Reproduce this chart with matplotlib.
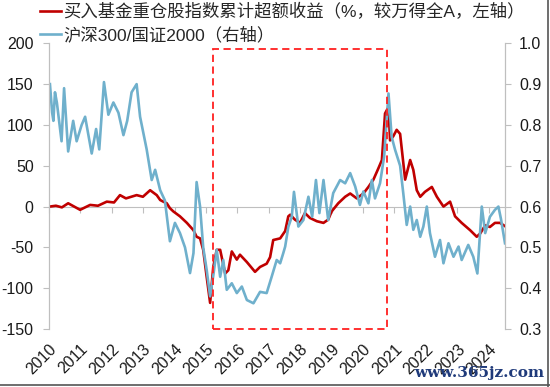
import matplotlib
matplotlib.use('Agg')
import matplotlib.pyplot as plt
from matplotlib.patches import Rectangle
from matplotlib.lines import Line2D

plt.rcParams['font.family'] = ['Liberation Sans', 'Noto Sans CJK SC']
plt.rcParams['font.size'] = 11.5

# 买入基金重仓股指数累计超额收益 (left axis, %)
red_t = [2010.03, 2010.22, 2010.41, 2010.61, 2010.80, 2010.99, 2011.31, 2011.56, 2011.84, 2012.07,
         2012.26, 2012.45, 2012.79, 2012.99, 2013.22, 2013.43, 2013.54, 2013.64, 2013.75, 2013.85,
         2013.96, 2014.17, 2014.39, 2014.60, 2014.70, 2014.81, 2014.91, 2015.02, 2015.13, 2015.23,
         2015.34, 2015.45, 2015.61, 2015.71, 2015.82, 2015.98, 2016.08, 2016.30, 2016.56, 2016.72,
         2016.93, 2017.04, 2017.14, 2017.36, 2017.52, 2017.62, 2017.68, 2017.83, 2017.99, 2018.15,
         2018.31, 2018.53, 2018.74, 2018.89, 2019.00, 2019.21, 2019.43, 2019.59, 2019.80, 2020.01,
         2020.17, 2020.33, 2020.49, 2020.60, 2020.70, 2020.81, 2020.86, 2020.96, 2021.07, 2021.18,
         2021.26, 2021.34, 2021.50, 2021.60, 2021.71, 2021.82, 2021.97, 2022.19, 2022.35, 2022.56,
         2022.77, 2022.93, 2023.14, 2023.41, 2023.62, 2023.73, 2023.89, 2024.04, 2024.20, 2024.36,
         2024.52]
red_v = [0, 1, -1, 4, 0, -4, 2, 1, 6, 5,
         14, 10, 14, 12, 20, 14, 8, 6, 4, -2,
         -6, -12, -20, -29, -37, -39, -53, -86, -118, -74,
         -53, -53, -82, -78, -55, -65, -59, -68, -80, -74,
         -70, -62, -41, -39, -30, -12, -10, -16, -20, -8,
         -14, -18, -20, -16, -6, 4, 12, 16, 10, 16,
         24, 33, 47, 57, 114, 122, 81, 86, 94, 89,
         61, 33, 57, 45, 20, 12, 18, 24, 12, 0,
         6, -12, -20, -29, -37, -33, -23, -25, -20, -20,
         -24]

# 沪深300/国证2000 (right axis)
blue_t = [2010.03, 2010.10, 2010.14, 2010.19, 2010.25, 2010.40, 2010.48, 2010.61, 2010.77, 2010.88,
          2011.04, 2011.15, 2011.36, 2011.50, 2011.60, 2011.75, 2011.89, 2012.05, 2012.21, 2012.37,
          2012.49, 2012.63, 2012.79, 2012.90, 2013.11, 2013.27, 2013.38, 2013.54, 2013.69, 2013.85,
          2014.01, 2014.17, 2014.33, 2014.49, 2014.60, 2014.70, 2014.81, 2014.91, 2015.02, 2015.13,
          2015.23, 2015.34, 2015.45, 2015.55, 2015.66, 2015.82, 2015.98, 2016.14, 2016.30, 2016.51,
          2016.72, 2016.93, 2017.09, 2017.25, 2017.36, 2017.46, 2017.52, 2017.62, 2017.73, 2017.80,
          2017.94, 2018.10, 2018.26, 2018.38, 2018.50, 2018.61, 2018.74, 2018.89, 2019.05, 2019.27,
          2019.43, 2019.59, 2019.75, 2019.90, 2020.01, 2020.17, 2020.28, 2020.38, 2020.54, 2020.67,
          2020.81, 2020.91, 2021.02, 2021.18, 2021.28, 2021.39, 2021.50, 2021.60, 2021.71, 2021.82,
          2021.92, 2022.03, 2022.13, 2022.29, 2022.45, 2022.56, 2022.72, 2022.88, 2023.04, 2023.14,
          2023.35, 2023.51, 2023.64, 2023.78, 2023.89, 2024.04, 2024.20, 2024.31, 2024.39, 2024.52]
blue_v = [0.90, 0.83, 0.81, 0.88, 0.855, 0.76, 0.89, 0.735, 0.81, 0.76,
          0.80, 0.82, 0.73, 0.79, 0.74, 0.905, 0.825, 0.855, 0.83, 0.775,
          0.81, 0.88, 0.90, 0.82, 0.74, 0.665, 0.69, 0.64, 0.615, 0.515,
          0.56, 0.535, 0.50, 0.437, 0.486, 0.66, 0.60, 0.50, 0.445, 0.38,
          0.43, 0.494, 0.428, 0.469, 0.396, 0.412, 0.388, 0.404, 0.371, 0.363,
          0.391, 0.388, 0.428, 0.469, 0.461, 0.486, 0.502, 0.55, 0.575, 0.636,
          0.551, 0.567, 0.624, 0.575, 0.665, 0.584, 0.665, 0.567, 0.633, 0.665,
          0.657, 0.682, 0.649, 0.604, 0.637, 0.608, 0.665, 0.620, 0.657, 0.722,
          0.877, 0.771, 0.739, 0.70, 0.633, 0.555, 0.60, 0.543, 0.567, 0.526,
          0.551, 0.60, 0.535, 0.477, 0.518, 0.461, 0.510, 0.477, 0.502, 0.469,
          0.506, 0.477, 0.436, 0.60, 0.535, 0.575, 0.592, 0.60, 0.57, 0.51]

years = list(range(2010, 2025))
left_ticks = [-150, -100, -50, 0, 50, 100, 150, 200]
right_ticks = [0.3, 0.4, 0.5, 0.6, 0.7, 0.8, 0.9, 1.0]

# highlighted period box
box_x0, box_x1 = 2015.23, 2020.76
box_y0, box_y1 = -150, 193

red = '#C00000'
blue = '#6FB0CC'
grey = '#BFBFBF'
txt = '#1A1A1A'

fig = plt.figure(figsize=(5.5, 3.87), dpi=100)
ax = fig.add_axes([0.0891, 0.1499, 0.8291, 0.7382])
ax2 = ax.twinx()

l1, = ax.plot(red_t, red_v, color=red, lw=1.9)
l2, = ax2.plot(blue_t, blue_v, color=blue, lw=1.9)

ax.set_xlim(2010, 2024.52)
ax.set_ylim(-150, 200)
ax2.set_ylim(0.3, 1.0)
ax.set_yticks(left_ticks)
ax.set_yticklabels([str(v) for v in left_ticks])
ax2.set_yticks(right_ticks)
ax2.set_yticklabels(['%.1f' % v for v in right_ticks])

ax.set_xticks(years)
ax.set_xticklabels([str(y) for y in years], rotation=45, ha='right',
                   rotation_mode='anchor')
ax.tick_params(axis='x', length=0, pad=9, colors=txt)
ax.tick_params(axis='y', length=4, pad=7, labelcolor=txt, color=grey)
ax2.tick_params(axis='y', length=4, pad=6, labelcolor=txt, color=grey)
for a in (ax, ax2):
    a.spines['top'].set_visible(False)
    a.spines['bottom'].set_visible(False)
    a.spines['left'].set_color(grey)
    a.spines['right'].set_color(grey)

# zero line with year ticks
zero = ax.secondary_xaxis(150 / 350)
zero.set_xticks(years)
zero.set_xticklabels([])
zero.tick_params(length=4, color=grey)
zero.spines['bottom'].set_color(grey)

ax2.add_patch(Rectangle((box_x0, box_y0), box_x1 - box_x0, box_y1 - box_y0,
                        transform=ax.transData, fill=False, ec='#FF2020',
                        lw=1.3, ls=(0, (4, 2.5)), zorder=5, clip_on=False))

fig.legend([l1, l2],
           ['买入基金重仓股指数累计超额收益（%，较万得全A，左轴）',
            '沪深300/国证2000（右轴）'],
           loc='upper left', bbox_to_anchor=(0.072, 0.993), frameon=False,
           handlelength=1.25, handletextpad=0.1, labelspacing=0.4,
           borderaxespad=0, borderpad=0, fontsize=12.5, labelcolor='#262626')

fig.text(0.99, 0.035, 'www.365jz.com', ha='right', va='center',
         family='DejaVu Serif', fontweight='bold', fontsize=11, color='#1F3A7A')
fig.add_artist(Line2D([0.997, 0.997], [0, 1], color='#555555', lw=1.2))
fig.add_artist(Line2D([0, 1], [0.006, 0.006], color='#555555', lw=1.2))

fig.savefig('out.png', dpi=100)
